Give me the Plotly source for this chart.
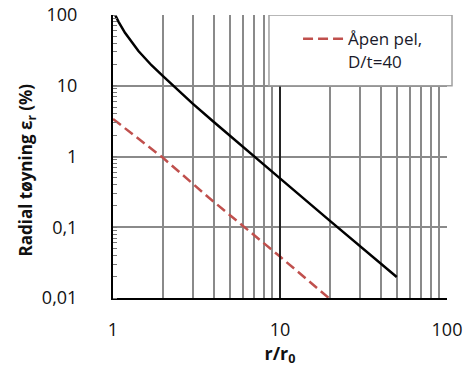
import plotly.graph_objects as go

# Black solid curve
solid_x = [1.0, 1.03, 1.08, 1.18, 1.42, 1.7, 2.0, 3.0, 4.0, 5.0, 7.0, 10.0, 20.0, 30.0, 50.0]
solid_y = [120, 100, 80, 56, 31, 19.5, 13.6, 5.6, 3.1, 1.97, 1.0, 0.49, 0.122, 0.055, 0.0198]

# Red dashed curve: Åpen pel, D/t=40
open_x = [1.0, 2.0, 3.74, 10.0, 20.0]
open_y = [3.4, 0.95, 0.263, 0.0385, 0.0096]

y_tickvals = [0.01, 0.1, 1, 10, 100]
y_ticktext = ["0,01", "0,1", "1", "10", "100"]
x_tickvals = [1, 10, 100]
x_ticktext = ["1", "10", "100"]

FONT = "Open Sans, Noto Sans, DejaVu Sans, sans-serif"
GRID = "#8a8a8a"

fig = go.Figure()
fig.add_trace(go.Scatter(
    x=solid_x, y=solid_y, mode="lines", showlegend=False,
    line=dict(color="black", width=2.5),
))
fig.add_trace(go.Scatter(
    x=open_x, y=open_y, mode="lines", name="Åpen pel,<br>D/t=40",
    line=dict(color="#C0504D", width=2.5, dash="10px,5px"),
))

# black vertical line at r/r0 = 10
fig.add_shape(type="line", xref="x", yref="y", x0=10, x1=10, y0=0.01, y1=100,
              line=dict(color="black", width=1.5), layer="above")
# legend box
fig.add_shape(type="rect", xref="paper", yref="y", x0=0.467, x1=1.015,
              y0=10, y1=100, fillcolor="white",
              line=dict(color="#a0a0a0", width=1.5), layer="above")

# y-axis title
fig.add_annotation(text="<b>Radial tøyning ε<sub>r</sub> (%)</b>", textangle=-90,
                   xref="paper", yref="paper", x=-0.2575, y=0.454,
                   xanchor="center", yanchor="middle", showarrow=False,
                   font=dict(size=17, family=FONT, color="#111111"))

fig.update_layout(
    width=467, height=374,
    margin=dict(l=113, r=20, t=15, b=76),
    paper_bgcolor="white", plot_bgcolor="white",
    font=dict(family=FONT, color="#111111"),
    showlegend=True,
    legend=dict(x=0.554, y=0.978, xanchor="left", yanchor="top",
                bgcolor="rgba(0,0,0,0)", borderwidth=0, valign="top",
                itemwidth=40,
                font=dict(size=17, family=FONT, color="#1a1a2a")),
    xaxis=dict(
        type="log", range=[0, 2], automargin=False,
        tickvals=x_tickvals, ticktext=x_ticktext,
        tickfont=dict(size=18), ticklabeloverflow="allow",
        ticks="outside", ticklen=14, tickcolor="rgba(0,0,0,0)",
        showline=True, linecolor="black", linewidth=2,
        showgrid=True, gridcolor=GRID, gridwidth=1.5,
        minor=dict(dtick="D1", showgrid=True, gridcolor=GRID, gridwidth=1.5, ticks=""),
        title=dict(text="<b>r/r<sub>0</sub></b>", font=dict(size=18), standoff=6),
        zeroline=False,
    ),
    yaxis=dict(
        type="log", range=[-2, 2], automargin=False,
        tickvals=y_tickvals, ticktext=y_ticktext,
        tickfont=dict(size=18), ticklabeloverflow="allow",
        ticks="", ticklabelstandoff=30,
        showline=True, linecolor="black", linewidth=2,
        showgrid=True, gridcolor=GRID, gridwidth=1.5,
        minor=dict(dtick="D1", showgrid=False, ticks="inside", ticklen=4, tickcolor="#777777"),
        zeroline=False,
    ),
)

fig.write_html("out.html", config={"displayModeBar": False},
               post_script="document.body.style.margin='0px';")
